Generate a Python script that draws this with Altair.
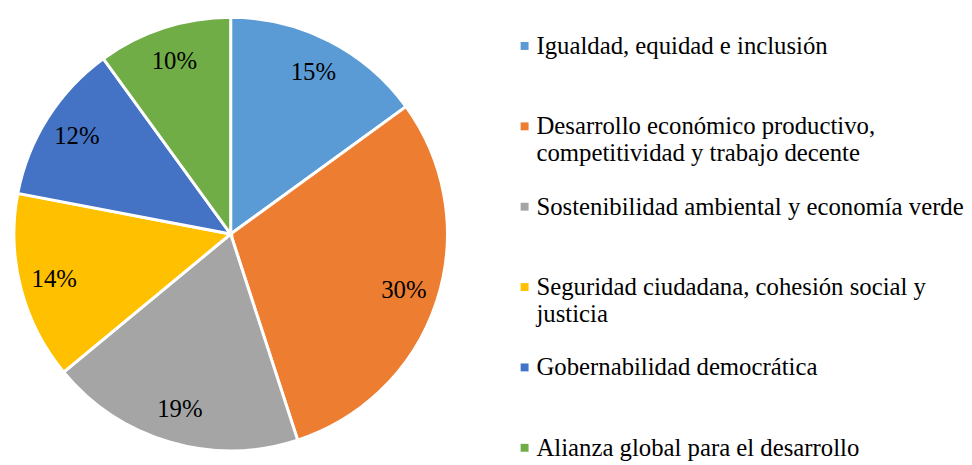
import altair as alt
import pandas as pd

categories = [
    "Igualdad, equidad e inclusión",
    "Desarrollo económico productivo,\ncompetitividad y trabajo decente",
    "Sostenibilidad ambiental y economía verde",
    "Seguridad ciudadana, cohesión social y\njusticia",
    "Gobernabilidad democrática",
    "Alianza global para el desarrollo",
]
values = [15, 30, 19, 14, 12, 10]
labels = ["15%", "30%", "19%", "14%", "12%", "10%"]
colors = ["#5B9BD5", "#ED7D31", "#A5A5A5", "#FFC000", "#4472C4", "#70AD47"]

df = pd.DataFrame({
    "cat": categories,
    "value": values,
    "label": labels,
    "idx": list(range(len(categories))),
})

color_scale = alt.Scale(domain=categories, range=colors)
FONT = "Liberation Serif"

# pie centre (plot-area coordinates)
CX, CY = 219, 226

arcs = alt.Chart(df).mark_arc(outerRadius=219, stroke="white", strokeWidth=3).encode(
    theta=alt.Theta("value:Q", stack=True),
    order=alt.Order("idx:Q", sort="ascending"),
    color=alt.Color("cat:N", scale=color_scale, legend=None),
    x=alt.value(CX),
    y=alt.value(CY),
)
texts = alt.Chart(df).mark_text(radius=184, font=FONT, fontSize=25).encode(
    theta=alt.Theta("value:Q", stack=True),
    order=alt.Order("idx:Q", sort="ascending"),
    text=alt.Text("label:N"),
    x=alt.value(CX),
    y=alt.value(CY),
)

ypos = alt.Y("cat:N", sort=categories, axis=None,
             scale=alt.Scale(type="point", range=[36, 442], padding=0))

squares = alt.Chart(df).mark_square(size=64, opacity=1).encode(
    x=alt.value(516),
    y=ypos,
    color=alt.Color("cat:N", scale=color_scale, legend=None),
)
leg_text = alt.Chart(df).mark_text(
    font=FONT, fontSize=25, align="left", baseline="alphabetic",
    dy=8, lineBreak="\n", lineHeight=27,
).encode(x=alt.value(528), y=ypos, text=alt.Text("cat:N"))

chart = alt.layer(arcs, texts, squares, leg_text).properties(
    width=956, height=452, padding=0,
    view=alt.ViewBackground(stroke=None),
)

chart.save("out.html", embed_options={"renderer": "svg", "actions": False})
